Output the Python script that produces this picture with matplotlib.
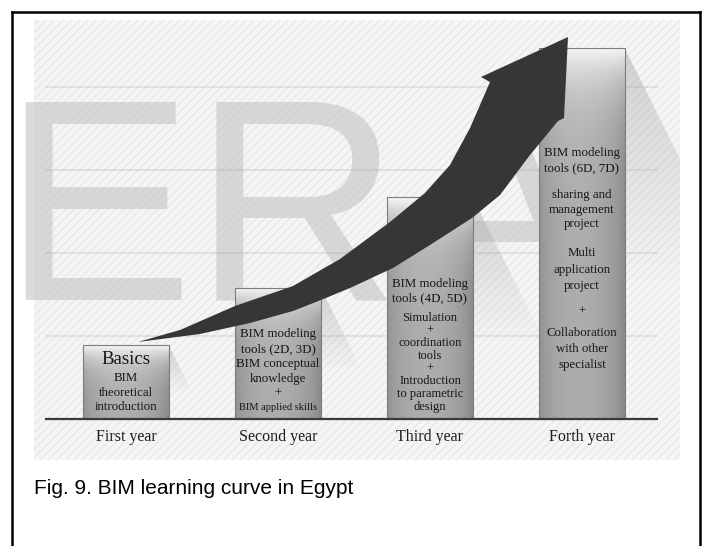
import numpy as np
import matplotlib.pyplot as plt
from matplotlib.patches import Rectangle, Polygon
from matplotlib.lines import Line2D
from matplotlib.font_manager import FontProperties

# ---- data ----
years = ["First year", "Second year", "Third year", "Forth year"]
levels = [0.89, 1.58, 2.67, 4.47]      # bar heights (grid units)
grid_levels = [1, 2, 3, 4]

bar_lines = [
    ["Basics", "BIM", "theoretical", "introduction"],
    ["BIM modeling", "tools (2D, 3D)", "BIM conceptual", "knowledge", "+",
     "BIM applied skills"],
    ["BIM modeling", "tools (4D, 5D)", "Simulation", "+", "coordination", "tools",
     "+", "Introduction", "to parametric", "design"],
    ["BIM modeling", "tools (6D, 7D)", "sharing and", "management", "project",
     "Multi", "application", "project", "+", "Collaboration", "with other",
     "specialist"],
]
caption = "Fig. 9. BIM learning curve in Egypt"
watermark = "ERA"

# ---- layout (pixels of the 704x546 picture) ----
W, H = 704, 546
BASE_PX, UNIT_PX = 419, 83          # baseline row, pixels per grid unit
X0_PX, STEP_PX = 126, 152           # centre of first bar, distance between bars
BAR_W = 0.56


def dy(py):
    return (BASE_PX - py) / UNIT_PX


def dx(px):
    return (px - X0_PX) / STEP_PX


# text blocks per bar: (first line, last line + 1, y of first line, line step, size)
blocks = [
    [(0, 1, 359, 0, 13.5), (1, 4, 378, 14.5, 9.3)],
    [(0, 5, 334, 15, 9.3), (5, 6, 407, 0, 7.6)],
    [(0, 2, 284, 14, 9.3), (2, 10, 318, 12.7, 9.0)],
    [(0, 2, 153, 15, 9.3), (2, 5, 195, 14.5, 9.3), (5, 8, 253, 16.5, 9.3),
     (8, 9, 312, 0, 9.3), (9, 12, 333, 16, 9.3)],
]

# arrow outline (pixels): upper edge tail->head, then head, then lower edge back
arrow_px = [
    (138, 342), (180, 330), (235, 306), (293, 286), (340, 259), (390, 222),
    (425, 193), (450, 165), (470, 128), (490, 82), (481, 77), (568, 37),
    (564, 118), (558, 121), (530, 155), (500, 195), (472, 218), (430, 245),
    (393, 268), (350, 288), (321, 300), (293, 311), (250, 323), (200, 334),
]

fig = plt.figure(figsize=(W / 100, H / 100), dpi=100)
ax = fig.add_axes([34 / W, (H - 460) / H, (680 - 34) / W, (460 - 20) / H])
xmin, xmax = dx(34), dx(680)
ymin, ymax = dy(460), dy(20)
renderer = fig.canvas.get_renderer()

plt.rcParams['hatch.linewidth'] = 1.0
ax.add_patch(Rectangle((xmin, ymin), xmax - xmin, ymax - ymin, facecolor='#f5f5f5',
                       edgecolor='#e8e8e8', hatch='////', linewidth=0, zorder=0))

# watermark
ax.text(1 / W, (H - 299) / H, watermark, transform=fig.transFigure,
        fontsize=207, family='Liberation Sans', color='#c4c4c4', alpha=0.6,
        ha='left', va='baseline', zorder=1.5)

# grid + baseline
gx0, gx1 = dx(45), dx(658)
ax.hlines(grid_levels, gx0, gx1, color='#999999', alpha=0.2, lw=1.5, zorder=2)
ax.hlines(0, gx0, gx1, color='#3a3a3a', lw=1.6, zorder=4)

xs = np.arange(len(years))

# shadows to the right of the bars
slope = 0.5 * UNIT_PX / STEP_PX
for x, h in zip(xs, levels):
    xr = x + BAR_W / 2
    poly = Polygon([(xr, h), (xr + slope * h, 0), (xr, 0)], closed=True,
                   facecolor='none', edgecolor='none')
    ax.add_patch(poly)
    a = np.clip((np.linspace(1, 0, 100) - 0.35) / 0.65, 0, 1)
    rgba = np.zeros((100, 2, 4))
    rgba[..., :3] = 0.68
    rgba[..., 3] = 0.5 * a[:, None]
    im = ax.imshow(rgba, extent=(xr, xr + slope * h, 0, h), aspect='auto',
                   interpolation='bilinear', zorder=1.8)
    im.set_clip_path(poly)

# bars with gradient fill
bars = ax.bar(xs, levels, width=BAR_W, facecolor='none', edgecolor='#7d7d7d',
              linewidth=0.8, zorder=3)
u = np.linspace(0, 1, 60)
prof = 0.53 + 0.13 * np.sin(np.pi * u) ** 0.6 + 0.03 * (1 - u)
for b, h in zip(bars, levels):
    dist = np.linspace(0, h * UNIT_PX, 300)
    hl = np.exp(-dist / (12 + 0.08 * h * UNIT_PX))
    img = prof[None, :] * (1 - hl[:, None]) + 0.97 * hl[:, None]
    im = ax.imshow(img, cmap='gray', vmin=0, vmax=1, aspect='auto',
                   extent=(b.get_x(), b.get_x() + b.get_width(), 0, h),
                   interpolation='bilinear', zorder=2.9)
    im.set_clip_path(b)

# curved arrow
ax.add_patch(Polygon([(dx(p), dy(q)) for p, q in arrow_px], closed=True,
                     facecolor='#363636', edgecolor='none', zorder=5))

# text inside bars, one text per block so the line pitch follows the picture
for x, lines, blk in zip(xs, bar_lines, blocks):
    for i0, i1, y0, step, size in blk:
        n = i1 - i0
        ls = 1.0
        if n > 1:
            fp = FontProperties(family='Liberation Serif', size=size)
            _, lh, ld = renderer.get_text_width_height_descent("lp", fp, ismath=False)
            ls = (step - ld) / (lh - ld)
        yc = y0 + step * (n - 1) / 2
        ax.text(x, dy(yc), "\n".join(lines[i0:i1]), ha='center', va='center',
                ma='center', fontsize=size, linespacing=ls,
                family='Liberation Serif', color='#161616', zorder=6)

# category labels
for x, lab in zip(xs, years):
    ax.text(x, dy(437), lab, ha='center', va='center', fontsize=11.5,
            family='Liberation Serif', color='#1e1e1e', zorder=6)

ax.set_xlim(xmin, xmax)
ax.set_ylim(ymin, ymax)
ax.axis('off')

# caption and frame
fig.text(34 / W, 1 - 488 / H, caption, fontsize=15, family='Liberation Sans',
         ha='left', va='center', color='black')
for xa, ya in [([12, 700], [12, 12]), ([12, 12], [12, H]), ([700, 700], [12, H])]:
    fig.add_artist(Line2D([v / W for v in xa], [1 - v / H for v in ya],
                          color='black', lw=1.8, transform=fig.transFigure))

fig.savefig("out.png", dpi=100)
